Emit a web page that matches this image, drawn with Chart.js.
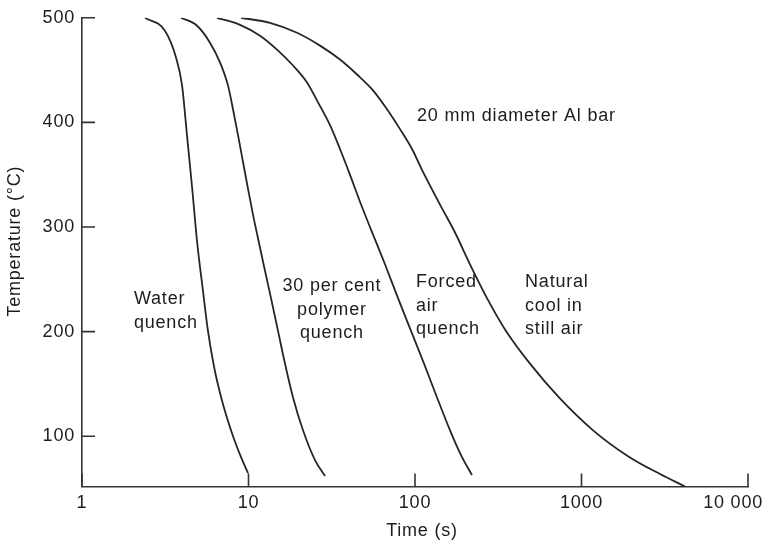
<!DOCTYPE html>
<html><head><meta charset="utf-8">
<script src="https://cdn.jsdelivr.net/npm/chart.js@4.4.1/dist/chart.umd.min.js"></script>
<style>html,body{margin:0;padding:0;background:#fff;}canvas{display:block;}</style>
</head><body>
<canvas id="c" width="768" height="545"></canvas>
<script>
// ---- data ----
const xTickValues = [1, 10, 100, 1000, 10000];
const xTickLabels = ["1", "10", "100", "1000", "10 000"];
const yTickValues = [100, 200, 300, 400, 500];

const waterTime = [2.39, 3.15, 3.67, 3.99, 4.27, 4.58, 4.91, 5.33, 5.71, 6.21, 6.93, 7.96, 9.02, 9.93];
const waterTemp = [500, 487.6, 462.0, 435.4, 387.9, 338.5, 286.2, 238.7, 200.7, 166.5, 134.2, 102.9, 80.0, 64.8];

const polymerTime = [3.93, 4.91, 5.87, 6.75, 7.53, 8.07, 8.65, 9.27, 9.93, 10.64, 11.41, 12.39, 13.65, 15.04, 16.57, 18.51, 21.25, 25.08, 28.81];
const polymerTemp = [500, 492.4, 476.2, 457.2, 435.4, 412.6, 387.9, 362.2, 336.6, 311.9, 289.1, 262.5, 232.1, 200.7, 169.4, 137.1, 105.7, 77.2, 62.0];

const forcedTime = [6.47, 8.89, 11.73, 14.83, 18.51, 22.46, 26.15, 30.87, 35.44, 40.71, 46.74, 54.41, 66.04, 79.06, 94.63, 113.3, 135.6, 162.3, 191.6, 219.9];
const forcedTemp = [500, 493.3, 482.9, 469.6, 454.4, 438.2, 419.2, 397.4, 374.6, 349.9, 324.2, 297.6, 264.4, 232.1, 200.7, 169.4, 137.1, 105.7, 80.0, 62.9];

const naturalTime = [9.02, 13.46, 19.56, 26.89, 35.44, 44.84, 55.95, 67.89, 81.29, 95.94, 111.7, 141.3, 173.9, 213.9, 270.6, 351.9, 490.6, 732.5, 1173, 1902, 2961, 4184];
const naturalTemp = [500, 495.2, 485.7, 473.4, 460.1, 445.8, 430.6, 412.6, 393.6, 374.6, 352.7, 321.4, 294.8, 264.4, 232.1, 200.7, 169.4, 137.1, 105.7, 81.0, 63.9, 52.0];

// annotations: text lines anchored at (time, temperature)
const noteLines = [["20 mm diameter Al bar"], ["Water", "quench"], ["30 per cent", "polymer", "quench"], ["Forced", "air", "quench"], ["Natural", "cool in", "still air"]];
const noteTime = [102.8, 2.05, 31.7, 101.4, 458];
const noteTemp = [405.9, 231.1, 243.5, 247.3, 247.3];
const noteAlign = ["left", "left", "center", "left", "left"];

// ---- styles ----
const FAMILY = '"Liberation Sans", Arial, Helvetica, sans-serif';
const FONT = '18px ' + FAMILY;
const TEXT = '#1c1c1c';
const LINE = '#262626';
const AXIS = '#333333';

function pts(t, v) { return t.map((x, i) => ({ x: x, y: v[i] })); }

const deco = {
  id: 'deco',
  beforeDraw(chart) { chart.ctx.letterSpacing = '0.8px'; },
  afterDraw(chart) {
    const ctx = chart.ctx, xs = chart.scales.x, ys = chart.scales.y, a = chart.chartArea;
    ctx.save();
    ctx.letterSpacing = '0.8px';
    ctx.strokeStyle = AXIS; ctx.lineWidth = 1.6;
    ctx.beginPath();
    yTickValues.forEach(v => { const y = ys.getPixelForValue(v); ctx.moveTo(a.left, y); ctx.lineTo(a.left + 13, y); });
    xTickValues.forEach(v => { const x = xs.getPixelForValue(v); ctx.moveTo(x, a.bottom); ctx.lineTo(x, a.bottom - 13); });
    ctx.stroke();

    ctx.font = FONT; ctx.fillStyle = TEXT; ctx.textBaseline = 'middle'; ctx.textAlign = 'center';
    xTickValues.forEach((v, i) => {
      const w = ctx.measureText(xTickLabels[i]).width;
      let x = xs.getPixelForValue(v);
      x = Math.min(x, chart.width - 5 - w / 2);
      ctx.fillText(xTickLabels[i], x, a.bottom + 17);
    });
    ctx.fillText('Time (s)', (a.left + a.right) / 2 + 7, a.bottom + 45);
    ctx.save();
    ctx.translate(15, (a.top + a.bottom) / 2 - 11);
    ctx.rotate(-Math.PI / 2);
    ctx.fillText('Temperature (°C)', 0, 0);
    ctx.restore();

    noteLines.forEach((lines, k) => {
      ctx.textAlign = noteAlign[k];
      const x = xs.getPixelForValue(noteTime[k]);
      const y0 = ys.getPixelForValue(noteTemp[k]);
      lines.forEach((s, i) => ctx.fillText(s, x, y0 + i * 23.5));
    });
    ctx.restore();
  }
};

const ds = (t, v) => ({ data: pts(t, v), borderColor: LINE, borderWidth: 1.8, pointRadius: 0, fill: false, cubicInterpolationMode: 'monotone' });

new Chart(document.getElementById('c'), {
  type: 'line',
  data: { datasets: [ds(waterTime, waterTemp), ds(polymerTime, polymerTemp), ds(forcedTime, forcedTemp), ds(naturalTime, naturalTemp)] },
  options: {
    responsive: false, animation: false, devicePixelRatio: 1,
    layout: { padding: { left: 0, top: 15, right: 20, bottom: 0 } },
    plugins: { legend: { display: false }, tooltip: { enabled: false } },
    scales: {
      x: {
        type: 'logarithmic', min: 1, max: 10000,
        ticks: { display: false },
        grid: { display: false, drawTicks: false },
        border: { display: true, color: AXIS, width: 1.6 },
        afterFit(s) { s.height = 58.5; s.paddingLeft = 0; s.paddingRight = 0; }
      },
      y: {
        type: 'linear', min: 52, max: 500,
        afterBuildTicks(s) { s.ticks = yTickValues.map(v => ({ value: v })); },
        ticks: { padding: 7, color: TEXT, font: { size: 18, family: FAMILY } },
        grid: { display: false, drawTicks: false },
        border: { display: true, color: AXIS, width: 1.6 },
        afterFit(s) { s.width = 82; }
      }
    }
  },
  plugins: [deco]
});
</script>
</body></html>
